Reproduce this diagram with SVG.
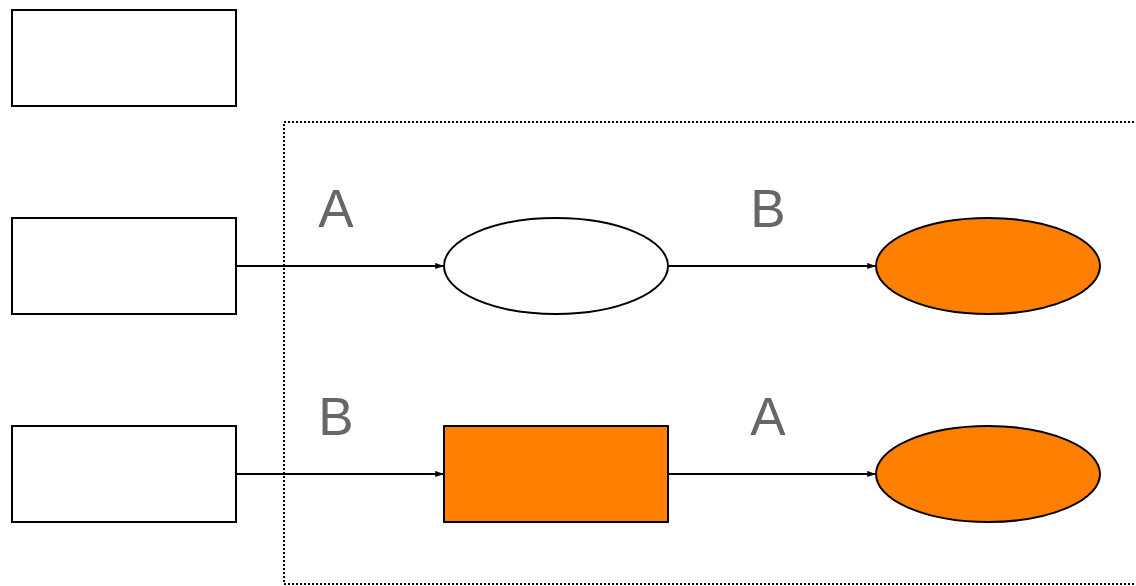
<svg xmlns="http://www.w3.org/2000/svg" width="1136" height="586" viewBox="0 0 1136 586">
<style>
.n{stroke:#000;stroke-width:2;fill:#fff}
.o{fill:#ff8000}
.e{stroke:#000;stroke-width:2;fill:none}
.l{font-family:"Liberation Sans",Arial,sans-serif;font-size:53px;fill:#666;text-anchor:middle}
</style>
<defs>
<marker id="ar" viewBox="0 0 10 8" refX="10" refY="4" markerWidth="9" markerHeight="7" markerUnits="userSpaceOnUse" orient="auto"><path d="M0,0.5 L10,4 L0,7.5 z" fill="#000"/></marker>
</defs>
<rect id="frame" x="284" y="122" width="860" height="462" fill="none" stroke="#000" stroke-width="2" stroke-dasharray="2,2"/>
<g id="box1"><rect class="n" x="12" y="10" width="224" height="96"/></g>
<g id="box2"><rect class="n" x="12" y="218" width="224" height="96"/></g>
<g id="box3"><rect class="n" x="12" y="426" width="224" height="96"/></g>
<g id="ell1"><ellipse class="n" cx="556" cy="266" rx="112" ry="48"/></g>
<g id="ell2"><ellipse class="n o" cx="988" cy="266" rx="112" ry="48"/></g>
<g id="rect4"><rect class="n o" x="444" y="426" width="224" height="96"/></g>
<g id="ell3"><ellipse class="n o" cx="988" cy="474" rx="112" ry="48"/></g>
<g id="edges">
<line class="e" x1="236" y1="266" x2="444" y2="266" marker-end="url(#ar)"/>
<line class="e" x1="668" y1="266" x2="876" y2="266" marker-end="url(#ar)"/>
<line class="e" x1="236" y1="474" x2="444" y2="474" marker-end="url(#ar)"/>
<line class="e" x1="668" y1="474" x2="876" y2="474" marker-end="url(#ar)"/>
<text class="l" x="336" y="227">A</text>
<text class="l" x="768" y="227">B</text>
<text class="l" x="336" y="435">B</text>
<text class="l" x="768" y="435">A</text>
</g>
</svg>
